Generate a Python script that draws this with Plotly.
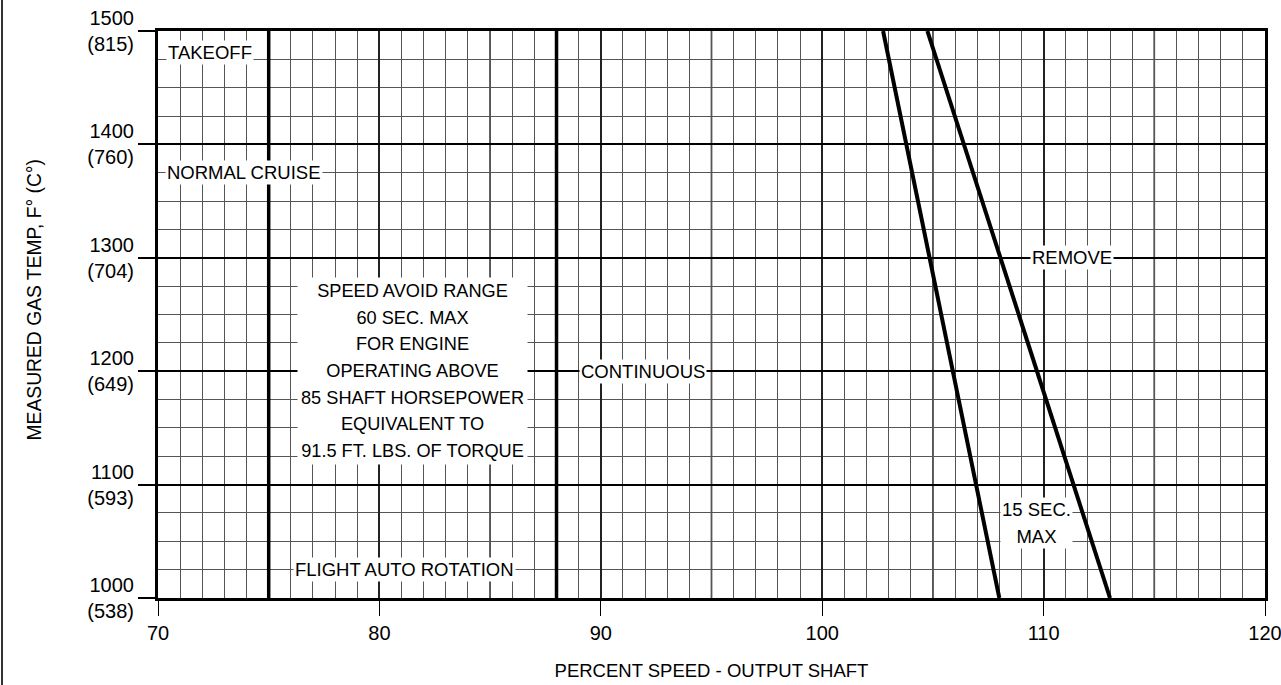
import plotly.graph_objects as go

# ---- data ----
x_range = [70, 120]
y_range = [1000, 1500]
x_tick_vals = [70, 80, 90, 100, 110, 120]
y_tick_vals = [1000, 1100, 1200, 1300, 1400, 1500]
y_tick_text = ["1000<br>(538)", "1100<br>(593)", "1200<br>(649)",
               "1300<br>(704)", "1400<br>(760)", "1500<br>(815)"]
heavy_x_grid = [75, 85, 95, 105, 115]

boundary_takeoff_x = [75, 75]
boundary_takeoff_y = [1000, 1500]
boundary_cont_x = [88, 88]
boundary_cont_y = [1000, 1500]

limit15_x = [102.75, 108]
limit15_y = [1500, 1000]
remove_x = [104.75, 113]
remove_y = [1500, 1000]

labels = [
    ("TAKEOFF", 72.35, 1481),
    ("NORMAL CRUISE", 73.9, 1375),
    ("REMOVE", 111.3, 1300),
    ("CONTINUOUS", 91.9, 1200),
    ("FLIGHT AUTO ROTATION", 81.15, 1025),
]
small_label_lines = (["15 SEC.", "MAX"], 109.7, 1066)
big_label_lines = (["SPEED AVOID RANGE", "60 SEC. MAX", "FOR ENGINE", "OPERATING ABOVE",
                    "85 SHAFT HORSEPOWER", "EQUIVALENT TO", "91.5 FT. LBS. OF TORQUE"],
                   81.5, 1200)

x_title = "PERCENT SPEED - OUTPUT SHAFT"
y_title = "MEASURED GAS TEMP, F° (C°)"

FONT = "Liberation Sans, Arial, sans-serif"
W, H = 1281, 685
ML, MR, MT, MB = 158, 16, 31, 87
PW, PH = W - ML - MR, H - MT - MB

fig = go.Figure()

for xs, ys, w in [(boundary_takeoff_x, boundary_takeoff_y, 3.5),
                  (boundary_cont_x, boundary_cont_y, 3.5),
                  (limit15_x, limit15_y, 4),
                  (remove_x, remove_y, 4)]:
    fig.add_trace(go.Scatter(x=xs, y=ys, mode="lines",
                             line=dict(color="black", width=w),
                             showlegend=False, hoverinfo="skip"))

# heavier 5-unit vertical grid lines
for gx in heavy_x_grid:
    fig.add_shape(type="line", xref="x", yref="y", x0=gx, x1=gx,
                  y0=y_range[0], y1=y_range[1],
                  line=dict(color="#222", width=1.6), layer="below")

for text, lx, ly in labels:
    fig.add_annotation(x=lx, y=ly, xref="x", yref="y", text=text,
                       showarrow=False, bgcolor="white", borderpad=1,
                       font=dict(family=FONT, size=18.5, color="black"))


def multiline(lines, glyph):
    return "<br>".join(f"<span style='font-size:{glyph}px'>{ln}</span>" for ln in lines)


fig.add_annotation(x=small_label_lines[1], y=small_label_lines[2], xref="x", yref="y",
                   text=multiline(small_label_lines[0], 18.5), showarrow=False,
                   bgcolor="white", borderpad=1, align="center",
                   font=dict(family=FONT, size=20.8, color="black"))

fig.add_annotation(x=big_label_lines[1], y=big_label_lines[2], xref="x", yref="y",
                   text=multiline(big_label_lines[0], 18.2), showarrow=False,
                   bgcolor="white", borderpad=3, align="center",
                   font=dict(family=FONT, size=20.5, color="black"))

# y-axis title
fig.add_annotation(x=(22 - ML) / PW, y=1 - (300 - MT) / PH, xref="paper", yref="paper",
                   text=y_title, textangle=-90, showarrow=False,
                   font=dict(family=FONT, size=19.3, color="black"))

# scan edge line at far left
fig.add_shape(type="line", xref="paper", yref="paper",
              x0=-(ML - 2) / PW, x1=-(ML - 2) / PW, y0=-MB / PH, y1=1 + MT / PH,
              line=dict(color="#333", width=2))

fig.update_layout(
    width=W, height=H,
    margin=dict(l=ML, r=MR, t=MT, b=MB, autoexpand=False),
    paper_bgcolor="white", plot_bgcolor="white",
    font=dict(family=FONT, color="black"),
    showlegend=False,
)

fig.update_xaxes(
    range=x_range, tickmode="array", tickvals=x_tick_vals,
    ticks="outside", ticklen=15, tickwidth=1, tickcolor="black",
    tickfont=dict(family=FONT, size=20, color="black"),
    ticklabeloverflow="allow",
    showgrid=True, gridcolor="#222", gridwidth=1.6,
    minor=dict(dtick=1, showgrid=True, gridcolor="#555", gridwidth=1, ticks=""),
    showline=True, linecolor="black", linewidth=3, mirror=True,
    zeroline=False,
    title=dict(text=x_title, font=dict(family=FONT, size=18.5, color="black"), standoff=22),
)
fig.update_yaxes(
    range=y_range, tickmode="array", tickvals=y_tick_vals, ticktext=y_tick_text,
    ticks="outside", ticklen=17, tickwidth=1.6, tickcolor="black",
    tickfont=dict(family=FONT, size=20, color="black"),
    ticklabeloverflow="allow",
    showgrid=True, gridcolor="black", gridwidth=1.6,
    minor=dict(dtick=25, showgrid=True, gridcolor="#555", gridwidth=1, ticks=""),
    showline=True, linecolor="black", linewidth=3, mirror=True,
    zeroline=False,
)

fig.write_html("out.html",
               config={"displayModeBar": False},
               post_script="document.body.style.margin='0';document.body.style.overflow='hidden';")
